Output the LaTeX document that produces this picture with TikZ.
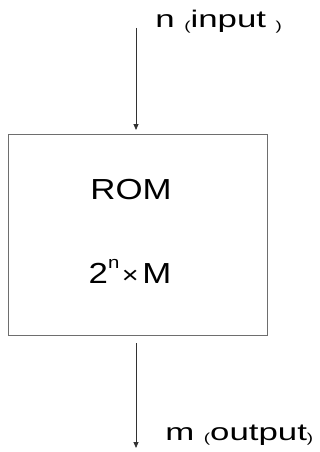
\documentclass[tikz,border=0pt]{standalone}
\usepackage{fontspec}
\setmainfont{Liberation Sans}
\usetikzlibrary{arrows.meta, positioning}
\definecolor{boxgray}{RGB}{110,110,110}
\definecolor{linegray}{RGB}{50,50,50}
\tikzset{
	rombox/.style={draw=boxgray, line width=1pt, minimum width=259pt, minimum height=201pt, inner sep=0pt},
	romtext/.style={font=\fontsize{29}{29}\selectfont, xscale=1.2, transform shape, inner sep=0pt},
	iolabel/.style={font=\fontsize{24}{24}\selectfont, xscale=1.45, transform shape, inner sep=0pt, anchor=base west},
	ioarrow/.style={draw=linegray, line width=0.8pt, -{Triangle[length=6pt, width=5pt]}}
}
\newcommand{\lowparen}[1]{\raisebox{-2pt}{\fontsize{13}{13}\selectfont #1}}
\begin{document}
\begin{tikzpicture}[x=1pt, y=1pt]
	\useasboundingbox (0,0) rectangle (320,-452);
	\node[rombox] (rom) at (137.5,-235) {};
	\node[romtext] (romname) at (131,-190) {ROM};
	\node[romtext] (romsize) at (130,-271) {2\raisebox{15pt}{\fontsize{17}{17}\selectfont n}\kern2pt{\fontsize{24}{24}\selectfont ×}\kern3pt M};
	% input and output ends
	\coordinate (in) at (136,-28);
	\coordinate (out) at (136,-448);
	\draw[ioarrow, shorten >=4pt] (in) -- (rom.north -| in);
	\draw[ioarrow, shorten <=7pt] (rom.south -| out) -- (out);
	\node[iolabel] (inlabel) at (155,-28) {n \lowparen{(}input \lowparen{)}};
	\node[iolabel] (outlabel) at (165,-440) {m \lowparen{(}output\lowparen{)}};
\end{tikzpicture}
\end{document}
